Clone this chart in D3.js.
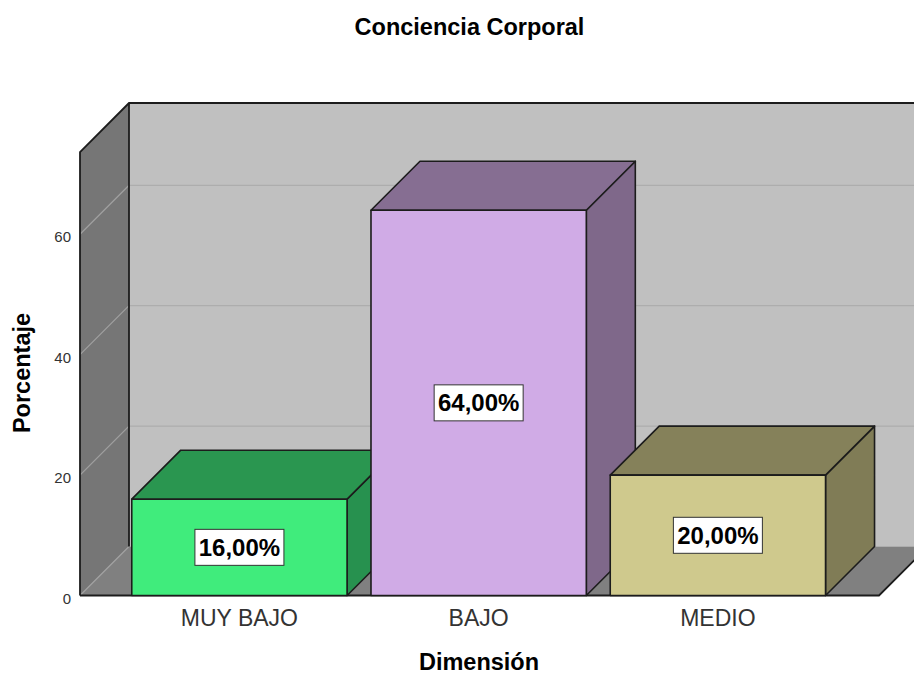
<!DOCTYPE html>
<html>
<head>
<meta charset="utf-8">
<script src="https://d3js.org/d3.v7.min.js"></script>
<style>
  html, body { margin: 0; padding: 0; background: #fff; }
  svg { display: block; }
  text { font-family: "Liberation Sans", Arial, sans-serif; fill: #000; }
</style>
</head>
<body>
<svg id="chart"></svg>
<script>
var categories = ["MUY BAJO", "BAJO", "MEDIO"];
var percentages = [16, 64, 20];
var valueLabels = ["16,00%", "64,00%", "20,00%"];
var yTicks = [0, 20, 40, 60];
var yMax = 73.67;

var frontColors = ["#40ec7c", "#d0abe6", "#cfc98d"];
var topColors = ["#2a9650", "#866e92", "#85815a"];
var sideColors = ["#27914f", "#7f688a", "#807c56"];

var width = 914;
var height = 675;
var depth = 49;      // 3d offset, up and to the right
var lineColor = "#1c1c1c";

var svg = d3.select("#chart").attr("width", width).attr("height", height);

var x = d3.scaleBand().domain(categories).range([119.8, 837.5]).paddingInner(0.1).paddingOuter(0.05);
var y = d3.scaleLinear().domain([0, yMax]).range([595.5, 152]);

var left = 80;
var right = 879;
var y0 = y(0);
var yTop = y(yMax);

function poly(points) {
	return "M" + points.map(function(p) { return p[0] + "," + p[1]; }).join("L") + "Z";
}

// walls and floor
var walls = svg.append("g");
walls.append("rect")
	.attr("x", left + depth).attr("y", yTop - depth)
	.attr("width", width).attr("height", y0 - yTop)
	.attr("fill", "#c0c0c0");
walls.append("path")
	.attr("d", poly([[left, y0], [right, y0], [right + depth, y0 - depth], [width + depth, y0 - depth], [left + depth, y0 - depth]]))
	.attr("fill", "#808080");
walls.append("path")
	.attr("d", poly([[left, yTop], [left + depth, yTop - depth], [left + depth, y0 - depth], [left, y0]]))
	.attr("fill", "#767676");

// gridlines on both walls
var grid = svg.append("g").selectAll("g").data(yTicks).enter().append("g");
grid.append("line")
	.attr("x1", left).attr("x2", left + depth)
	.attr("y1", function(d) { return y(d); })
	.attr("y2", function(d) { return y(d) - depth; })
	.attr("stroke", "#a0a0a0").attr("stroke-width", 1.2);
grid.append("line")
	.attr("x1", left + depth).attr("x2", width)
	.attr("y1", function(d) { return y(d) - depth; })
	.attr("y2", function(d) { return y(d) - depth; })
	.attr("stroke", "#adadad").attr("stroke-width", 1.2);

// wall outline
var outline = svg.append("g")
	.attr("fill", "none").attr("stroke", lineColor).attr("stroke-width", 1.8);
outline.append("path")
	.attr("d", "M" + left + "," + y0 + "L" + left + "," + yTop + "L" + (left + depth) + "," + (yTop - depth) + "L" + width + "," + (yTop - depth));
outline.append("path")
	.attr("d", "M" + (left + depth) + "," + (yTop - depth) + "L" + (left + depth) + "," + (y0 - depth));
outline.append("path")
	.attr("d", "M" + left + "," + y0 + "L" + right + "," + y0 + "L" + (right + depth) + "," + (y0 - depth));

// bars, left to right so each one hides the side of the previous
var bars = svg.append("g").selectAll("g").data(categories).enter().append("g")
	.attr("stroke", lineColor).attr("stroke-width", 1.6).attr("stroke-linejoin", "round");

bars.append("path")
	.attr("fill", function(d, i) { return sideColors[i]; })
	.attr("d", function(d, i) {
		var x1 = x(d) + x.bandwidth(), yv = y(percentages[i]);
		return poly([[x1, y0], [x1, yv], [x1 + depth, yv - depth], [x1 + depth, y0 - depth]]);
	});
bars.append("path")
	.attr("fill", function(d, i) { return topColors[i]; })
	.attr("d", function(d, i) {
		var x0 = x(d), x1 = x0 + x.bandwidth(), yv = y(percentages[i]);
		return poly([[x0, yv], [x1, yv], [x1 + depth, yv - depth], [x0 + depth, yv - depth]]);
	});
bars.append("rect")
	.attr("x", function(d) { return x(d); })
	.attr("y", function(d, i) { return y(percentages[i]); })
	.attr("width", x.bandwidth())
	.attr("height", function(d, i) { return y0 - y(percentages[i]); })
	.attr("fill", function(d, i) { return frontColors[i]; });

// value labels in white boxes
var labels = svg.append("g").selectAll("g").data(categories).enter().append("g")
	.attr("transform", function(d, i) {
		return "translate(" + (x(d) + x.bandwidth() / 2) + "," + y(percentages[i] / 2) + ")";
	});
labels.append("rect")
	.attr("x", -44.5).attr("y", -18).attr("width", 89).attr("height", 36)
	.attr("fill", "#fff").attr("stroke", "#333").attr("stroke-width", 1);
labels.append("text")
	.attr("text-anchor", "middle").attr("y", 8.5)
	.style("font-size", "24px").style("font-weight", "bold")
	.text(function(d, i) { return valueLabels[i]; });

// axes
var yAxis = svg.append("g")
	.attr("transform", "translate(" + left + ",0)")
	.call(d3.axisLeft(y).tickValues(yTicks).tickSize(0).tickPadding(9));
yAxis.select(".domain").remove();
yAxis.selectAll("text")
	.attr("dy", "0.5em")
	.style("font-size", "15px").style("font-family", "'Liberation Sans', Arial, sans-serif").style("fill", "#333");

var xAxis = svg.append("g")
	.attr("transform", "translate(0," + y0 + ")")
	.call(d3.axisBottom(x).tickSize(0).tickPadding(14));
xAxis.select(".domain").remove();
xAxis.selectAll("text")
	.style("font-size", "23px").style("font-family", "'Liberation Sans', Arial, sans-serif").style("fill", "#333");

// titles
svg.append("text")
	.attr("x", 469.5).attr("y", 35).attr("text-anchor", "middle")
	.style("font-size", "23.5px").style("font-weight", "bold")
	.text("Conciencia Corporal");
svg.append("text")
	.attr("x", 479).attr("y", 670).attr("text-anchor", "middle")
	.style("font-size", "23.5px").style("font-weight", "bold")
	.text("Dimensión");
svg.append("text")
	.attr("transform", "translate(29.5,373) rotate(-90)").attr("text-anchor", "middle")
	.style("font-size", "23.5px").style("font-weight", "bold")
	.text("Porcentaje");
</script>
</body>
</html>
